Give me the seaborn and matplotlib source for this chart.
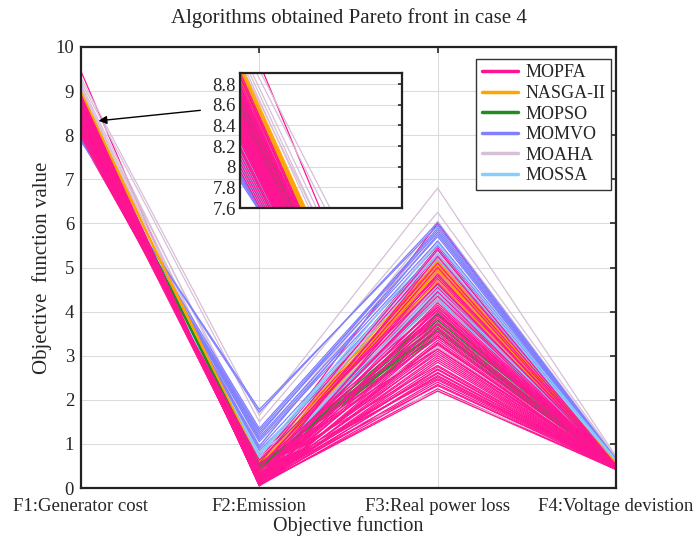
import matplotlib
matplotlib.use("Agg")
import matplotlib.pyplot as plt
import seaborn as sns
import pandas as pd

# ---------------- data ----------------
objectives = ["F1:Generator cost", "F2:Emission", "F3:Real power loss", "F4:Voltage devistion"]
algorithms = ["MOPFA", "NASGA-II", "MOPSO", "MOMVO", "MOAHA", "MOSSA"]
colors = ["#FF1493", "#FFA500", "#228B22", "#8080FF", "#D8BFD8", "#87CEFA"]

MOPFA_F1 = [9.45, 8.93, 8.90, 8.87, 8.84, 8.81, 8.78, 8.76, 8.73, 8.71, 8.69, 8.66, 8.64, 8.62, 8.60, 8.57,
            8.55, 8.53, 8.51, 8.49, 8.47, 8.45, 8.43, 8.41, 8.39, 8.37, 8.35, 8.33, 8.31, 8.29, 8.27, 8.25,
            8.23, 8.21, 8.19, 8.17, 8.15, 8.13, 8.11, 8.09, 8.07, 8.05, 8.03, 8.01, 7.99, 7.97, 7.94, 7.91,
            8.91, 8.86, 8.82, 8.79, 8.74, 8.70, 8.67, 8.63, 8.59, 8.56, 8.52, 8.48, 8.44, 8.40, 8.36, 8.32,
            8.28, 8.24, 8.20, 8.16, 8.12, 8.08, 8.04, 8.00, 7.96, 8.88, 8.77, 8.65, 8.54, 8.42, 8.30, 8.18]
MOPFA_F2 = [0.06, 0.07, 0.08, 0.10, 0.09, 0.12, 0.11, 0.13, 0.15, 0.14, 0.16, 0.18, 0.17, 0.20, 0.22, 0.21,
            0.24, 0.26, 0.25, 0.28, 0.30, 0.29, 0.32, 0.34, 0.33, 0.36, 0.38, 0.37, 0.40, 0.42, 0.41, 0.44,
            0.46, 0.45, 0.48, 0.50, 0.52, 0.51, 0.55, 0.57, 0.60, 0.58, 0.62, 0.65, 0.68, 0.70, 0.74, 0.78,
            0.05, 0.06, 0.08, 0.07, 0.10, 0.09, 0.12, 0.11, 0.14, 0.13, 0.16, 0.19, 0.18, 0.22, 0.25, 0.27,
            0.30, 0.33, 0.35, 0.39, 0.43, 0.47, 0.53, 0.56, 0.63, 0.05, 0.06, 0.08, 0.10, 0.12, 0.15, 0.20]
MOPFA_F3 = [2.85, 3.10, 2.25, 2.40, 3.35, 2.55, 3.60, 2.70, 3.80, 2.95, 4.05, 3.20, 4.30, 3.45, 2.32, 3.70,
            4.55, 3.05, 3.90, 4.75, 2.62, 4.15, 3.50, 4.95, 2.48, 4.40, 3.75, 5.15, 3.25, 4.60, 2.78, 3.95,
            5.30, 4.25, 3.40, 4.85, 3.65, 5.05, 4.50, 3.85, 6.00, 4.70, 3.15, 5.45, 4.10, 4.90, 3.55, 5.20,
            2.35, 2.60, 2.20, 2.90, 3.30, 2.45, 3.00, 3.55, 2.75, 3.85, 3.15, 4.20, 3.62, 4.45, 2.52, 4.65,
            3.92, 5.00, 4.35, 3.72, 5.10, 4.80, 4.02, 5.40, 4.62, 3.45, 4.10, 3.28, 4.85, 2.68, 3.98, 5.25]
MOPFA_F4 = [0.44, 0.43, 0.42, 0.43, 0.44, 0.43, 0.45, 0.44, 0.45, 0.44, 0.46, 0.45, 0.47, 0.46, 0.44, 0.46,
            0.48, 0.45, 0.47, 0.49, 0.45, 0.47, 0.46, 0.50, 0.45, 0.48, 0.47, 0.50, 0.46, 0.49, 0.46, 0.48,
            0.51, 0.49, 0.47, 0.50, 0.48, 0.51, 0.50, 0.49, 0.53, 0.51, 0.48, 0.53, 0.50, 0.52, 0.50, 0.54,
            0.43, 0.43, 0.42, 0.44, 0.45, 0.43, 0.44, 0.46, 0.44, 0.47, 0.45, 0.48, 0.46, 0.48, 0.44, 0.49,
            0.47, 0.50, 0.48, 0.47, 0.51, 0.50, 0.48, 0.52, 0.50, 0.45, 0.47, 0.45, 0.49, 0.44, 0.47, 0.51]

NSGA_F1 = [9.00, 8.97, 8.95, 8.92, 8.90, 8.88, 8.86, 8.84]
NSGA_F2 = [0.35, 0.38, 0.42, 0.45, 0.50, 0.55, 0.48, 0.60]
NSGA_F3 = [5.05, 4.95, 5.00, 4.90, 5.10, 4.80, 4.70, 5.15]
NSGA_F4 = [0.56, 0.55, 0.56, 0.55, 0.57, 0.55, 0.54, 0.57]

MOPSO_F1 = [8.68, 8.65, 8.62, 8.58, 8.55, 8.52]
MOPSO_F2 = [0.42, 0.45, 0.50, 0.47, 0.55, 0.52]
MOPSO_F3 = [3.95, 3.80, 3.60, 3.70, 3.45, 3.55]
MOPSO_F4 = [0.50, 0.50, 0.49, 0.49, 0.48, 0.48]

MOMVO_F1 = [7.86, 7.88, 7.90, 7.92, 7.93, 7.95, 7.97, 8.00, 8.02, 8.05, 8.08, 8.10]
MOMVO_F2 = [1.78, 1.72, 1.30, 1.25, 1.20, 1.15, 1.10, 1.35, 1.05, 0.95, 0.90, 0.85]
MOMVO_F3 = [5.95, 6.02, 5.80, 5.70, 5.90, 5.60, 5.50, 5.85, 5.40, 5.75, 5.30, 4.90]
MOMVO_F4 = [0.66, 0.65, 0.64, 0.63, 0.64, 0.62, 0.62, 0.64, 0.61, 0.63, 0.60, 0.60]

MOAHA_F1 = [9.30, 9.22, 9.15, 9.10, 9.05, 9.00, 8.95, 8.90, 8.85, 8.80]
MOAHA_F2 = [1.65, 1.50, 0.95, 0.70, 0.55, 1.10, 0.45, 0.80, 0.60, 0.50]
MOAHA_F3 = [6.80, 6.25, 6.05, 5.60, 5.35, 5.80, 4.60, 3.70, 3.20, 2.20]
MOAHA_F4 = [0.72, 0.70, 0.68, 0.66, 0.64, 0.67, 0.60, 0.58, 0.55, 0.52]

MOSSA_F1 = [8.00, 7.98, 8.03, 8.06, 8.10, 8.14, 8.18, 8.22, 7.96, 8.08]
MOSSA_F2 = [0.75, 0.70, 0.62, 0.58, 0.52, 0.48, 0.45, 0.40, 0.80, 0.66]
MOSSA_F3 = [5.55, 5.40, 5.20, 4.50, 4.40, 4.30, 4.45, 4.25, 5.30, 4.60]
MOSSA_F4 = [0.64, 0.63, 0.62, 0.62, 0.61, 0.60, 0.60, 0.59, 0.63, 0.61]

series = {
    "MOPFA": (MOPFA_F1, MOPFA_F2, MOPFA_F3, MOPFA_F4),
    "NASGA-II": (NSGA_F1, NSGA_F2, NSGA_F3, NSGA_F4),
    "MOPSO": (MOPSO_F1, MOPSO_F2, MOPSO_F3, MOPSO_F4),
    "MOMVO": (MOMVO_F1, MOMVO_F2, MOMVO_F3, MOMVO_F4),
    "MOAHA": (MOAHA_F1, MOAHA_F2, MOAHA_F3, MOAHA_F4),
    "MOSSA": (MOSSA_F1, MOSSA_F2, MOSSA_F3, MOSSA_F4),
}

rows = []
for alg, cols in series.items():
    for i in range(len(cols[0])):
        for j in range(4):
            rows.append({"alg": alg, "line": i, "obj": j + 1, "value": cols[j][i]})
df = pd.DataFrame(rows)
palette = dict(zip(algorithms, colors))

# ---------------- style ----------------
sns.set_style("white")
plt.rcParams["font.family"] = ["Liberation Serif", "DejaVu Serif"]

fig = plt.figure(figsize=(6.98, 5.42), dpi=100)
ax = fig.add_axes([0.116, 0.0996, 0.7665, 0.8137])


def draw(target):
    pink = df[df["alg"] == "MOPFA"]
    layers = [pink[pink["line"] < 48]]
    for alg in ["MOAHA", "MOMVO", "MOSSA", "NASGA-II", "MOPSO"]:
        layers.append(df[df["alg"] == alg])
    layers.append(pink[pink["line"] >= 48])
    for sub in layers:
        sns.lineplot(data=sub, x="obj", y="value", hue="alg", units="line", estimator=None,
                     palette=palette, linewidth=0.9, legend=False, ax=target, sort=False)


draw(ax)

ax.set_xlim(1, 4)
ax.set_ylim(0, 10)
ax.set_xticks([1, 2, 3, 4])
ax.set_xticklabels(objectives, fontsize=13.5)
ax.set_yticks(range(0, 11))
ax.set_yticklabels([str(v) for v in range(0, 11)], fontsize=13.5)
ax.grid(True, color="#DCDCDC", linewidth=0.8)
ax.set_axisbelow(True)
for s in ax.spines.values():
    s.set_linewidth(1.6)
    s.set_color("#222222")
ax.tick_params(direction="in", length=4, width=1.2, top=True, right=True)
ax.tick_params(axis="x", pad=7)
ax.tick_params(axis="y", pad=5)
ax.set_xlabel("Objective function", fontsize=14.5, labelpad=1)
ax.set_ylabel("Objective  function value", fontsize=15, labelpad=2)
ax.set_title("Algorithms obtained Pareto front in case 4", fontsize=15, pad=17)

# arrow
ax.annotate("", xy=(1.083, 8.32), xytext=(1.685, 8.57),
            arrowprops=dict(arrowstyle="-|>", color="black", lw=1.0, mutation_scale=12))

# legend
handles = [plt.Line2D([0], [0], color=c, lw=2.5) for c in colors]
leg = ax.legend(handles, algorithms, loc="upper right", bbox_to_anchor=(0.991, 0.973),
                borderaxespad=0, fancybox=False, framealpha=1, edgecolor="#333333",
                fontsize=13, handlelength=2.0, labelspacing=0.2, borderpad=0.3, handletextpad=0.45)
leg.get_frame().set_linewidth(1.0)

# inset
axin = fig.add_axes([0.344, 0.616, 0.232, 0.25])
draw(axin)
axin.set_xlim(1, 1.4)
axin.set_ylim(7.6, 8.91)
axin.set_xticks([])
yt = [7.6, 7.8, 8.0, 8.2, 8.4, 8.6, 8.8]
axin.set_yticks(yt)
axin.set_yticklabels(["7.6", "7.8", "8", "8.2", "8.4", "8.6", "8.8"], fontsize=13.5)
axin.grid(True, axis="y", color="#DCDCDC", linewidth=0.8)
axin.set_axisbelow(True)
axin.set_xlabel("")
axin.set_ylabel("")
axin.set_facecolor("white")
for s in axin.spines.values():
    s.set_linewidth(1.6)
    s.set_color("#222222")
axin.tick_params(direction="in", length=3, width=1.2, right=True, pad=3)

fig.savefig("out.png", dpi=100)
